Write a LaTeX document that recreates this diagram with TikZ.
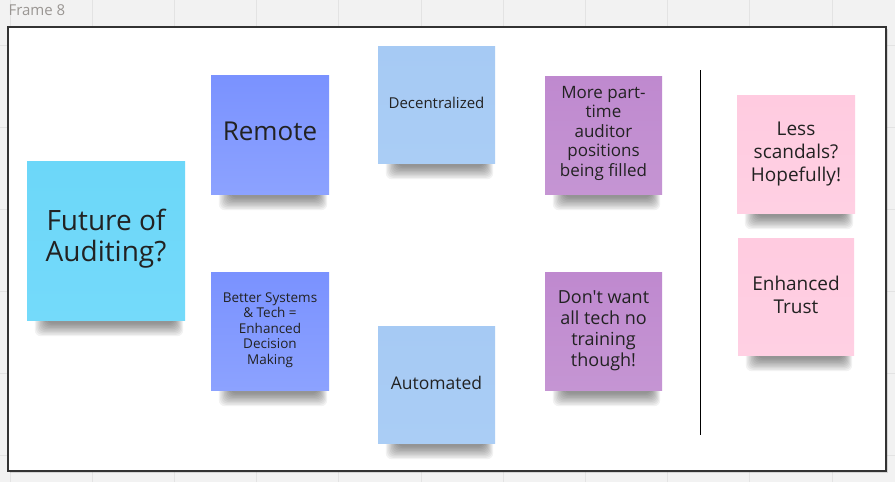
\documentclass[tikz,border=0pt]{standalone}
\usepackage{fontspec}
\setmainfont{Open Sans}
\newfontfamily\rawfont{Open Sans}
\usetikzlibrary{backgrounds}
\pgfdeclarelayer{shadowlayer}
\pgfsetlayers{background,shadowlayer,main}
\definecolor{canvas}{HTML}{F2F2F2}
\definecolor{gridc}{HTML}{E3E3E3}
\definecolor{framec}{HTML}{333333}
\definecolor{ink}{HTML}{222222}
\definecolor{cyannote}{HTML}{6CD7F9}
\definecolor{cyannoteb}{HTML}{74DAFA}
\definecolor{bluenote}{HTML}{7A92FF}
\definecolor{bluenoteb}{HTML}{8CA2FF}
\definecolor{lightnote}{HTML}{A6CAF4}
\definecolor{lightnoteb}{HTML}{AACDF5}
\definecolor{purplenote}{HTML}{BF89CF}
\definecolor{purplenoteb}{HTML}{C595D3}
\definecolor{pinknote}{HTML}{FFCBE0}
\definecolor{pinknoteb}{HTML}{FFD0E3}
\definecolor{labelc}{HTML}{9A9693}
\tikzset{
  note/.style={inner sep=0pt, align=center, text=ink, minimum width=118pt, minimum height=118pt},
  cyan note/.style={note, top color=cyannote, bottom color=cyannoteb},
  blue note/.style={note, top color=bluenote, bottom color=bluenoteb},
  light note/.style={note, top color=lightnote, bottom color=lightnoteb},
  purple note/.style={note, top color=purplenote, bottom color=purplenoteb},
  pink note/.style={note, top color=pinknote, bottom color=pinknoteb},
  gridline/.style={draw=gridc, line width=0.8pt},
}
\newcommand\noteshadow[1]{%
  \begin{pgfonlayer}{shadowlayer}
    \foreach \i in {0,...,9}{
      \fill[black, opacity=0.05, rounded corners=6pt]
        ([xshift={8pt+1.3*\i pt}, yshift=4pt]#1.south west) rectangle
        ([xshift={-2pt-1.0*\i pt}, yshift={-16pt+1.4*\i pt}]#1.south east);
    }
  \end{pgfonlayer}}
\begin{document}
\begin{tikzpicture}[x=1pt, y=-1pt]
  \useasboundingbox (0,0) rectangle (895,482);
  \begin{pgfonlayer}{background}
    \fill[canvas] (0,0) rectangle (895,482);
    \foreach \gx in {10,92.2,174.4,256.6,338.8,421,503.2,585.4,667.6,749.8,832}
      \draw[gridline] (\gx,0) -- (\gx,482);
    \foreach \gy in {45,127,209,291,373,455}
      \draw[gridline] (0,\gy) -- (895,\gy);
    \fill[black, opacity=0.12] (9.5,28.5) rectangle (888,473);
    \draw[draw=framec, fill=white, line width=1.6pt] (8,27) rectangle (886,471);
  \end{pgfonlayer}
  \node[anchor=west, text=labelc, font=\fontsize{15}{17}\selectfont] (title) at (5,10.5) {Frame 8};

  \node[cyan note, minimum width=158pt, minimum height=159pt, text depth=10.5pt, font=\fontsize{28}{31}\selectfont] (fut) at (106,240.5) {Future of\\Auditing?};
  \node[blue note, minimum height=119pt, text depth=6pt, font=\fontsize{26}{28}\selectfont] (rem) at (270,134.5) {Remote};
  \node[blue note, text depth=5pt, font=\fontsize{13.5}{15.5}\selectfont] (bet) at (270,331) {Better Systems\\\& Tech =\\Enhanced\\Decision\\Making};
  \node[light note, minimum width=117pt, minimum height=117pt, text depth=4pt, font=\fontsize{15}{18}\selectfont] (dec) at (436.5,104.5) {Decentralized};
  \node[light note, minimum width=117pt, minimum height=117pt, text depth=4pt, font=\fontsize{17.5}{20}\selectfont] (aut) at (436.5,384.5) {Automated};
  \node[purple note, minimum width=117pt, text depth=8pt, font=\fontsize{17}{19.5}\selectfont] (mor) at (603.5,135) {More part-\\time\\auditor\\positions\\being filled};
  \node[purple note, minimum width=117pt, font=\rawfont\fontsize{18}{21}\selectfont] (don) at (603.5,331) {Don't want\\all tech no\\training\\though!};
  \node[pink note, font=\fontsize{19}{23}\selectfont] (les) at (796,154) {Less\\scandals?\\Hopefully!};
  \node[pink note, minimum width=116pt, minimum height=117pt, text depth=4pt, font=\fontsize{19}{23}\selectfont] (enh) at (796,296.5) {Enhanced\\Trust};

  \noteshadow{fut}\noteshadow{rem}\noteshadow{bet}\noteshadow{dec}\noteshadow{aut}
  \noteshadow{mor}\noteshadow{don}\noteshadow{les}\noteshadow{enh}

  \coordinate (divtop) at (700,70);
  \coordinate (divbot) at (700,435);
  \draw[black, line width=0.9pt] (divtop) -- (divbot);
\end{tikzpicture}
\end{document}
